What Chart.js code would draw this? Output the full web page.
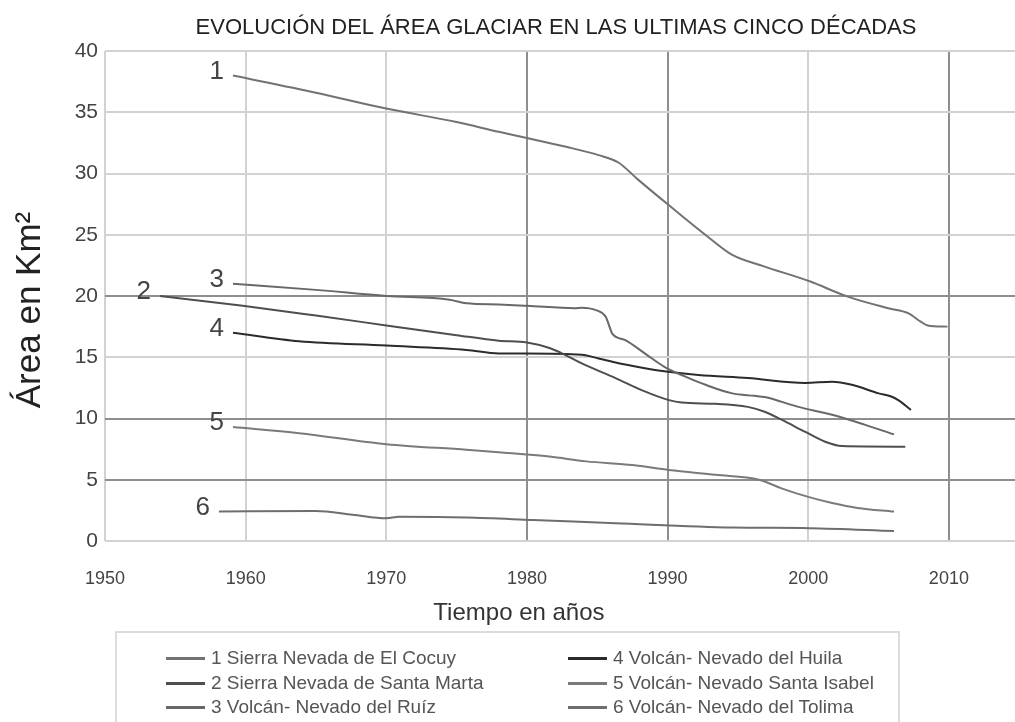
<!DOCTYPE html>
<html>
<head>
<meta charset="utf-8">
<title>Evolución del área glaciar</title>
<script src="https://cdn.jsdelivr.net/npm/chart.js@4.4.1/dist/chart.umd.min.js"></script>
<style>
  html, body { margin: 0; padding: 0; background: #fff; }
  #wrap { position: relative; width: 1015px; height: 722px; overflow: hidden; }
  #legend {
    position: absolute; left: 115px; top: 631px; width: 785px; height: 120px;
    border: 2px solid #dcdcdc; box-sizing: border-box;
    font: 19px "Liberation Sans", Arial, sans-serif; color: #555;
  }
  .item { position: absolute; height: 24px; line-height: 24px; white-space: nowrap; }
  .swatch { display: inline-block; width: 39px; height: 3px; vertical-align: middle; margin-right: 6px; }
</style>
</head>
<body>
<div id="wrap">
  <canvas id="glaciar-chart" width="1015" height="722"></canvas>
  <div id="legend"></div>
</div>
<script>
// ticks
const xTicks = [1950, 1960, 1970, 1980, 1990, 2000, 2010];
const yTicks = [0, 5, 10, 15, 20, 25, 30, 35, 40];

// 1 Sierra Nevada de El Cocuy
const years1 = [1959.1, 1965, 1970, 1975, 1978, 1980, 1982.7, 1985.1, 1986.5, 1987.9, 1990.1, 1992.9, 1994.6, 1996.9, 2000.1, 2002.8, 2005.7, 2007.1, 2008.0, 2008.5, 2009.9];
const area1 = [38.0, 36.6, 35.3, 34.2, 33.4, 32.9, 32.2, 31.5, 30.9, 29.5, 27.4, 24.8, 23.35, 22.4, 21.2, 19.95, 19.0, 18.6, 17.9, 17.6, 17.5];

// 2 Sierra Nevada de Santa Marta
const years2 = [1953.9, 1959.8, 1965, 1970, 1975, 1978, 1980, 1981.6, 1982.7, 1983.9, 1986.3, 1988.2, 1990.1, 1991.0, 1993.4, 1995.7, 1996.9, 1998.1, 1999.8, 2001.2, 2002.4, 2006.9];
const area2 = [20.0, 19.2, 18.4, 17.6, 16.8, 16.35, 16.2, 15.75, 15.2, 14.5, 13.3, 12.3, 11.5, 11.3, 11.2, 10.95, 10.55, 9.9, 8.9, 8.1, 7.75, 7.7];

// 3 Volcán- Nevado del Ruíz
const years3 = [1959.1, 1965, 1970, 1974.5, 1975.7, 1978, 1980, 1983.4, 1983.9, 1984.9, 1985.6, 1985.9, 1986.05, 1987.0, 1988.4, 1989.8, 1991.3, 1992.7, 1994.6, 1996.2, 1996.9, 1999.3, 2001.7, 2004.0, 2006.1];
const area3 = [21.0, 20.5, 20.0, 19.7, 19.4, 19.3, 19.2, 19.0, 19.05, 18.85, 18.3, 17.4, 16.95, 16.4, 15.3, 14.2, 13.4, 12.75, 12.05, 11.85, 11.75, 10.95, 10.3, 9.5, 8.7];

// 4 Volcán- Nevado del Huila
const years4 = [1959.1, 1963.8, 1970, 1975.7, 1978, 1980, 1983.9, 1985.1, 1987.0, 1989.1, 1992.2, 1995.7, 1999.8, 2001.7, 2003.1, 2005.0, 2005.9, 2006.4, 2007.3];
const area4 = [17.0, 16.3, 15.95, 15.6, 15.3, 15.3, 15.2, 14.9, 14.4, 13.95, 13.55, 13.3, 12.9, 13.0, 12.75, 12.05, 11.8, 11.5, 10.7];

// 5 Volcán- Nevado Santa Isabel
const years5 = [1959.1, 1963.8, 1970, 1975.7, 1978, 1981.6, 1984.2, 1987.5, 1990.1, 1993.4, 1996.5, 1998.1, 2000.0, 2001.7, 2003.5, 2006.1];
const area5 = [9.3, 8.8, 7.9, 7.45, 7.25, 6.9, 6.5, 6.2, 5.8, 5.4, 5.0, 4.3, 3.6, 3.1, 2.7, 2.4];

// 6 Volcán- Nevado del Tolima
const years6 = [1958.1, 1965.0, 1967.6, 1970, 1970.9, 1975.7, 1980.4, 1986.3, 1994.6, 2000.1, 2006.1];
const area6 = [2.4, 2.45, 2.15, 1.85, 1.97, 1.92, 1.72, 1.45, 1.1, 1.05, 0.82];

const names = [
  '1 Sierra Nevada de El Cocuy',
  '2 Sierra Nevada de Santa Marta',
  '3 Volcán- Nevado del Ruíz',
  '4 Volcán- Nevado del Huila',
  '5 Volcán- Nevado Santa Isabel',
  '6 Volcán- Nevado del Tolima'
];
const numbers = ['1', '2', '3', '4', '5', '6'];
const colors = ['#727272', '#4e4e4e', '#686868', '#2b2b2b', '#7a7a7a', '#6e6e6e'];

const allYears = [years1, years2, years3, years4, years5, years6];
const allAreas = [area1, area2, area3, area4, area5, area6];

// stronger grid lines, as in the printed figure
const darkX = [1980, 1990, 2010];
const darkY = [5, 10, 20];

const FONT = '"Liberation Sans", Arial, sans-serif';

const datasets = names.map((name, i) => ({
  label: name,
  data: allYears[i].map((x, j) => ({ x: x, y: allAreas[i][j] })),
  borderColor: colors[i],
  backgroundColor: colors[i],
  borderWidth: 2,
  pointRadius: 0,
  cubicInterpolationMode: 'monotone',
  fill: false
}));

// title, axis titles and the numbers at the start of each line
const textPlugin = {
  id: 'textPlugin',
  afterDraw(chart) {
    const ctx = chart.ctx;
    const area = chart.chartArea;
    const xs = chart.scales.x;
    ctx.save();

    ctx.fillStyle = '#222';
    ctx.font = '22px ' + FONT;
    ctx.textAlign = 'center';
    ctx.textBaseline = 'alphabetic';
    ctx.fillText('EVOLUCIÓN DEL ÁREA GLACIAR EN LAS ULTIMAS CINCO DÉCADAS', (area.left + area.right) / 2 - 4, 34);

    ctx.fillStyle = '#333';
    ctx.font = '24px ' + FONT;
    const midX = (xs.getPixelForValue(xTicks[0]) + xs.getPixelForValue(xTicks[xTicks.length - 1])) / 2 - 8;
    ctx.fillText('Tiempo en años', midX, 620);

    ctx.save();
    ctx.translate(40, (area.top + area.bottom) / 2 + 14);
    ctx.rotate(-Math.PI / 2);
    ctx.font = '35px ' + FONT;
    ctx.fillStyle = '#222';
    ctx.textAlign = 'center';
    ctx.fillText('Área en Km²', 0, 0);
    ctx.restore();

    ctx.font = '26px ' + FONT;
    ctx.fillStyle = '#444';
    ctx.textAlign = 'right';
    ctx.textBaseline = 'middle';
    chart.data.datasets.forEach((ds, i) => {
      const pt = chart.getDatasetMeta(i).data[0];
      ctx.fillText(numbers[i], pt.x - 9, pt.y - 4);
    });
    ctx.restore();
  }
};

const glaciarChart = new Chart(document.getElementById('glaciar-chart'), {
  type: 'line',
  data: { datasets: datasets },
  options: {
    responsive: false,
    animation: false,
    layout: { padding: { top: 51, right: 0, bottom: 131, left: 0 } },
    plugins: {
      legend: { display: false },
      title: { display: false },
      tooltip: { enabled: false }
    },
    scales: {
      x: {
        type: 'linear',
        min: 1950,
        max: 2014.7,
        afterBuildTicks: axis => { axis.ticks = xTicks.map(v => ({ value: v })); },
        afterFit: axis => { axis.height = 50; },
        border: { display: false },
        grid: {
          drawTicks: false,
          lineWidth: 2,
          color: c => darkX.includes(c.tick && c.tick.value) ? '#8e8e8e' : '#d2d2d2'
        },
        ticks: {
          padding: 27,
          maxRotation: 0,
          color: '#444',
          font: { family: FONT, size: 18 },
          callback: v => String(v)
        }
      },
      y: {
        min: 0,
        max: 40,
        afterBuildTicks: axis => { axis.ticks = yTicks.map(v => ({ value: v })); },
        afterFit: axis => { axis.width = 105; },
        border: { display: false },
        grid: {
          drawTicks: false,
          lineWidth: 2,
          color: c => darkY.includes(c.tick && c.tick.value) ? '#8e8e8e' : '#d2d2d2'
        },
        ticks: {
          padding: 7,
          color: '#444',
          font: { family: FONT, size: 21 }
        }
      }
    }
  },
  plugins: [textPlugin]
});

// legend in two columns, built from the datasets
const legendEl = document.getElementById('legend');
datasets.forEach((ds, i) => {
  const item = document.createElement('div');
  item.className = 'item';
  item.style.left = (i < 3 ? 49 : 451) + 'px';
  item.style.top = (13 + (i % 3) * 24.5) + 'px';
  const sw = document.createElement('span');
  sw.className = 'swatch';
  sw.style.background = ds.borderColor;
  item.appendChild(sw);
  item.appendChild(document.createTextNode(ds.label));
  legendEl.appendChild(item);
});
</script>
</body>
</html>
